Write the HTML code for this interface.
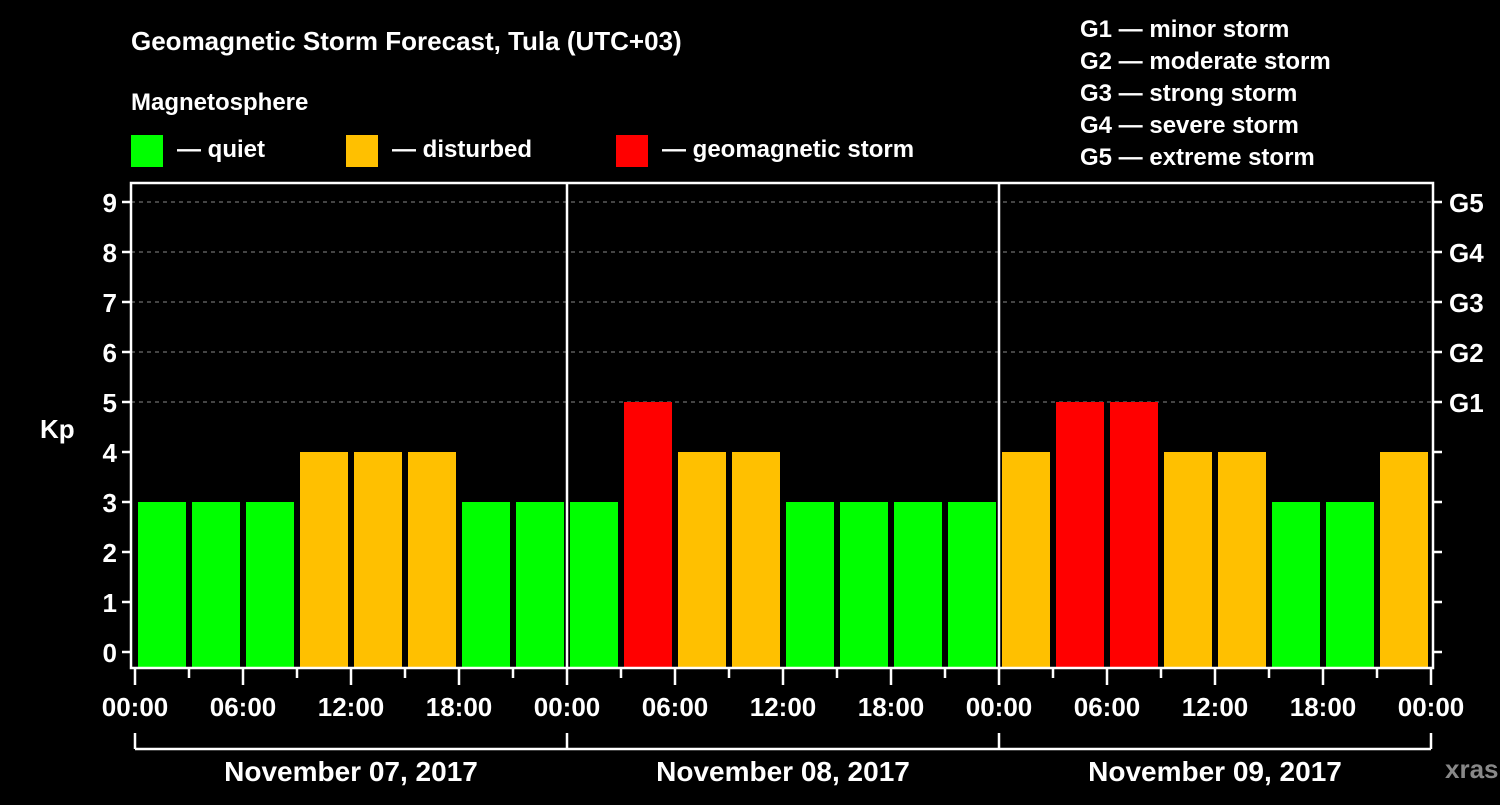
<!DOCTYPE html>
<html><head><meta charset="utf-8"><style>
body{margin:0;background:#000;width:1500px;height:800px;overflow:hidden}
svg text{font-family:"Liberation Sans",Arial,sans-serif;font-weight:bold;fill:#fff}
</style></head><body>
<svg id="c" width="1500" height="800" xmlns="http://www.w3.org/2000/svg">
<rect width="1500" height="800" fill="#000"/>
<text x="131" y="50" font-size="26">Geomagnetic Storm Forecast, Tula (UTC+03)</text>
<text x="131" y="110" font-size="24">Magnetosphere</text>
<g><rect x="131" y="135" width="32" height="32" fill="#00ff00"/><text x="177" y="157" font-size="24">— quiet</text></g>
<g><rect x="346" y="135" width="32" height="32" fill="#ffc000"/><text x="392" y="157" font-size="24">— disturbed</text></g>
<g><rect x="616" y="135" width="32" height="32" fill="#ff0000"/><text x="662" y="157" font-size="24">— geomagnetic storm</text></g>
<g font-size="24">
<text x="1080" y="37">G1 — minor storm</text>
<text x="1080" y="69">G2 — moderate storm</text>
<text x="1080" y="101">G3 — strong storm</text>
<text x="1080" y="133">G4 — severe storm</text>
<text x="1080" y="165">G5 — extreme storm</text>
</g>
<text x="40" y="438" font-size="26">Kp</text>
<text x="1445" y="778" font-size="26" fill="#888" style="fill:#888">xras.ru</text>
<g id="grid"></g><g id="bars"></g><g id="axes"></g>
</svg>
<script>
const kpValues=[3,3,3,4,4,4,3,3, 3,5,4,4,3,3,3,3, 4,5,5,4,4,3,3,4];
const dayLabels=["November 07, 2017","November 08, 2017","November 09, 2017"];
const hourLabels=["00:00","06:00","12:00","18:00"];
const gLabels=["G1","G2","G3","G4","G5"];
const NS="http://www.w3.org/2000/svg";
const X0=135,HW=18,Y0=652,KU=50,BOT=668,TOP=183,L=131,R=1433;
const xs=h=>X0+h*HW, ys=k=>Y0-k*KU;
function mk(p,t,a){const e=document.createElementNS(NS,t);for(const k in a)e.setAttribute(k,a[k]);p.appendChild(e);return e;}
const grid=document.getElementById('grid'),bars=document.getElementById('bars'),axes=document.getElementById('axes');
for(let k=5;k<=9;k++){const l=mk(grid,'line',{x1:L,x2:R,y1:ys(k),y2:ys(k),stroke:'#888','stroke-dasharray':'4 4','stroke-width':1});

}
kpValues.forEach((v,i)=>{const c=v>=5?'#ff0000':v>=4?'#ffc000':'#00ff00';
const r=mk(bars,'rect',{x:xs(i*3)+3,y:ys(v),width:HW*3-6,height:BOT-ys(v),fill:c});

});
const W={stroke:'#fff','stroke-width':2.5};
mk(axes,'path',Object.assign({d:`M${L} ${BOT}V${TOP}H${R}V${BOT}Z`,fill:'none'},W));
for(let d=1;d<3;d++)mk(axes,'line',Object.assign({x1:xs(d*24),x2:xs(d*24),y1:TOP,y2:BOT},W));
for(let k=0;k<=9;k++){mk(axes,'line',Object.assign({x1:L-9,x2:L,y1:ys(k),y2:ys(k)},W));
mk(axes,'line',Object.assign({x1:R,x2:R+9,y1:ys(k),y2:ys(k)},W));
const t=mk(axes,'text',{x:L-14,y:ys(k)+10,'font-size':26,'text-anchor':'end'});t.textContent=k;

}
gLabels.forEach((g,i)=>{const t=mk(axes,'text',{x:1449,y:ys(i+5)+10,'font-size':26});t.textContent=g;

});
for(let h=0;h<=72;h+=3){const major=h%6==0;mk(axes,'line',Object.assign({x1:xs(h),x2:xs(h),y1:BOT,y2:BOT+(major?17:10)},W));
if(major){const t=mk(axes,'text',{x:xs(h),y:716,'font-size':26,'text-anchor':'middle'});t.textContent=hourLabels[(h%24)/6];

}}
mk(axes,'line',Object.assign({x1:xs(0),x2:xs(72),y1:749,y2:749},W));
for(let d=0;d<=3;d++)mk(axes,'line',Object.assign({x1:xs(d*24),x2:xs(d*24),y1:733,y2:749},W));
dayLabels.forEach((s,i)=>{const t=mk(axes,'text',{x:xs(i*24+12),y:781,'font-size':28,'text-anchor':'middle'});t.textContent=s;

});
</script>
</body></html>
